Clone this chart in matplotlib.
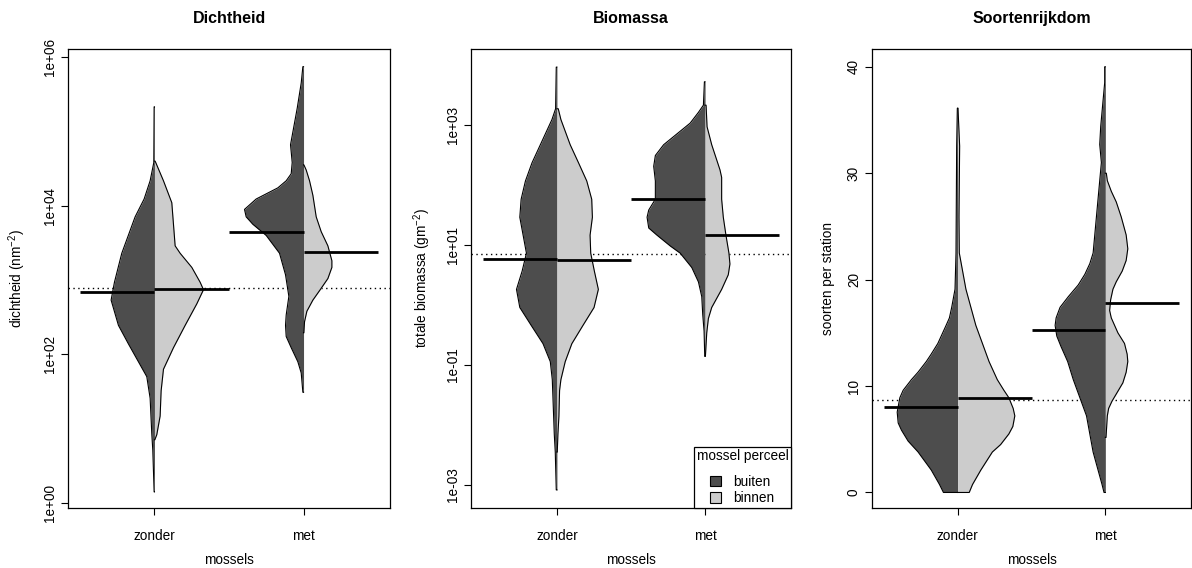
import numpy as np
import matplotlib
matplotlib.use('Agg')
import matplotlib.pyplot as plt
from matplotlib.patches import Patch

plt.rcParams['font.family'] = ['Liberation Sans', 'DejaVu Sans']
plt.rcParams['mathtext.fontset'] = 'custom'
plt.rcParams['mathtext.rm'] = 'Liberation Sans'
plt.rcParams['mathtext.default'] = 'regular'

# ---------------- data ----------------
groups = ['zonder', 'met']
side_labels = ['buiten', 'binnen']
titles = ['Dichtheid', 'Biomassa', 'Soortenrijkdom']
ylabels = ['dichtheid (nm$^{-2}$)', 'totale biomassa (gm$^{-2}$)', 'soorten per station']
xlabel = 'mossels'

# Dichtheid (log10 of density), bean profiles: y values and relative density
dicht_zonder_buiten_y = [5.33, 4.58, 4.335, 4.09, 3.85, 3.36, 2.97, 2.73, 2.39, 2.14, 1.90, 1.70, 1.41, 0.93, 0.71, 0.15]
dicht_zonder_buiten_d = [1, 2, 13, 31, 58, 98, 120, 130, 108, 78, 48, 23, 13, 8, 5, 1]
dicht_zonder_binnen_y = [4.60, 4.335, 4.04, 3.75, 3.46, 3.36, 3.17, 2.97, 2.87, 2.68, 2.39, 2.09, 1.80, 1.51, 1.17, 0.92, 0.85]
dicht_zonder_binnen_d = [2, 27, 52, 57, 62, 77, 112, 137, 147, 127, 92, 57, 27, 20, 17, 7, 1]
dicht_met_buiten_y = [5.87, 5.65, 5.31, 4.82, 4.58, 4.43, 4.335, 4.24, 4.09, 3.95, 3.85, 3.75, 3.60, 3.36, 3.07, 2.78, 2.53, 2.39, 2.24, 2.09, 1.90, 1.75, 1.49]
dicht_met_buiten_d = [2, 7, 19, 39, 34, 37, 52, 77, 142, 177, 172, 152, 112, 72, 54, 44, 52, 54, 52, 37, 17, 7, 2]
dicht_met_binnen_y = [4.55, 4.48, 4.335, 4.14, 3.85, 3.65, 3.46, 3.26, 3.17, 3.02, 2.87, 2.73, 2.58, 2.44, 2.29]
dicht_met_binnen_d = [1, 8, 18, 28, 38, 53, 73, 85, 85, 73, 50, 28, 10, 3, 1]
dicht_means = {'zonder': [2.835, 2.874], 'met': [3.65, 3.375]}
dicht_grand = 2.895

# Biomassa (log10 of biomass)
bio_zonder_buiten_y = [3.965, 3.27, 3.09, 2.97, 2.67, 2.37, 2.065, 1.76, 1.46, 1.16, 0.86, 0.56, 0.256, -0.046, -0.35, -0.65, -0.95, -1.25, -1.55, -2.16, -2.46, -3.09]
bio_zonder_buiten_d = [2, 4, 15, 25, 50, 75, 95, 108, 112, 102, 92, 105, 122, 112, 77, 42, 20, 14, 12, 8, 5, 2]
bio_zonder_binnen_y = [3.27, 3.09, 2.97, 2.67, 2.37, 2.065, 1.76, 1.46, 1.16, 0.86, 0.56, 0.256, -0.046, -0.35, -0.65, -0.95, -1.25, -1.43, -1.86, -2.16, -2.46]
bio_zonder_binnen_d = [4, 12, 20, 40, 65, 90, 105, 107, 100, 102, 113, 125, 112, 78, 45, 25, 12, 8, 6, 3, 1]
bio_met_buiten_y = [3.72, 3.33, 3.21, 3.03, 2.85, 2.67, 2.49, 2.31, 2.065, 1.76, 1.58, 1.46, 1.28, 1.16, 0.98, 0.86, 0.62, 0.38, 0.135, -0.17, -0.44, -0.86]
bio_met_buiten_d = [2, 5, 20, 45, 85, 125, 150, 155, 150, 150, 170, 175, 170, 145, 105, 75, 40, 20, 10, 7, 3, 1]
bio_met_binnen_y = [3.33, 2.97, 2.67, 2.25, 2.125, 1.76, 1.46, 1.16, 0.86, 0.68, 0.50, 0.256, -0.046, -0.23, -0.47, -0.86]
bio_met_binnen_d = [3, 6, 20, 45, 50, 50, 55, 63, 72, 75, 70, 50, 20, 10, 5, 1]
bio_means = {'zonder': [0.77, 0.75], 'met': [1.76, 1.17]}
bio_grand = 0.84

# Soortenrijkdom (species per station)
soort_zonder_buiten_y = [36.1, 32.55, 22.5, 19.1, 17.4, 16.4, 15.7, 14.0, 13.0, 12.3, 11.3, 10.6, 9.6, 8.9, 7.55, 6.53, 5.85, 4.83, 3.81, 2.11, 0.75, 0.0]
soort_zonder_buiten_d = [1, 3, 5, 8, 18, 25, 35, 60, 80, 95, 120, 140, 165, 175, 183, 180, 170, 150, 120, 80, 55, 43]
soort_zonder_binnen_y = [36.1, 32.55, 25.9, 22.5, 20.8, 19.1, 17.4, 15.7, 14.0, 12.3, 10.6, 9.6, 8.9, 7.9, 7.2, 6.2, 5.5, 4.5, 3.8, 2.1, 0.75, 0.0]
soort_zonder_binnen_d = [1, 6, 4, 5, 15, 25, 40, 55, 75, 95, 120, 140, 155, 168, 173, 167, 155, 130, 105, 70, 45, 35]
soort_met_buiten_y = [40.0, 38.5, 36.8, 34.4, 32.7, 31.0, 29.3, 27.6, 25.9, 24.2, 22.5, 21.5, 20.5, 19.5, 18.4, 17.4, 16.4, 15.7, 14.7, 13.7, 12.3, 10.6, 8.9, 7.2, 5.5, 3.8, 2.1, 0.75, 0.0]
soort_met_buiten_d = [2, 2, 7, 14, 17, 12, 17, 22, 27, 32, 37, 47, 62, 82, 112, 137, 149, 152, 147, 134, 114, 97, 77, 57, 47, 37, 22, 10, 4]
soort_met_binnen_y = [30.0, 29.3, 28.3, 27.3, 25.9, 24.2, 22.9, 21.8, 20.8, 19.8, 19.1, 18.1, 17.1, 16.4, 15.0, 14.0, 13.0, 12.3, 11.3, 10.3, 9.25, 8.57, 7.9, 7.2, 5.17]
soort_met_binnen_d = [3, 6, 18, 33, 48, 63, 68, 63, 51, 33, 23, 16, 13, 18, 38, 58, 66, 68, 63, 53, 33, 20, 10, 6, 2]
soort_means = {'zonder': [8.03, 8.84], 'met': [15.27, 17.76]}
soort_grand = 8.67

dicht_ticks = [0, 2, 4, 6]
bio_ticks = [-3, -1, 1, 3]
soort_ticks = [0, 10, 20, 30, 40]

# ---------------- style ----------------
DARK = '#4d4d4d'
LIGHT = '#cccccc'
DENS_SCALE = 1.0 / 447.0
MEANLEN = 0.5
FS = 9.8

panels = [
    dict(log=True,
         beans={'zonder': [(dicht_zonder_buiten_y, dicht_zonder_buiten_d), (dicht_zonder_binnen_y, dicht_zonder_binnen_d)],
                'met': [(dicht_met_buiten_y, dicht_met_buiten_d), (dicht_met_binnen_y, dicht_met_binnen_d)]},
         means=dicht_means, grand=dicht_grand, ticks=dicht_ticks, ylim=(-0.067, 6.108),
         rect=[68, 49, 390, 508], ylab_x=-0.124),
    dict(log=True,
         beans={'zonder': [(bio_zonder_buiten_y, bio_zonder_buiten_d), (bio_zonder_binnen_y, bio_zonder_binnen_d)],
                'met': [(bio_met_buiten_y, bio_met_buiten_d), (bio_met_binnen_y, bio_met_binnen_d)]},
         means=bio_means, grand=bio_grand, ticks=bio_ticks, ylim=(-3.392, 4.267),
         rect=[471, 49, 791, 508], ylab_x=-0.120),
    dict(log=False,
         beans={'zonder': [(soort_zonder_buiten_y, soort_zonder_buiten_d), (soort_zonder_binnen_y, soort_zonder_binnen_d)],
                'met': [(soort_met_buiten_y, soort_met_buiten_d), (soort_met_binnen_y, soort_met_binnen_d)]},
         means=soort_means, grand=soort_grand, ticks=soort_ticks, ylim=(-1.46, 41.67),
         rect=[872, 49, 1191, 508], ylab_x=-0.117),
]

W, H = 1192, 568
fig = plt.figure(figsize=(W / 100, H / 100), dpi=100)

for p, title, ylab in zip(panels, titles, ylabels):
    l, t, r, b = p['rect']
    ax = fig.add_axes([l / W, (H - b) / H, (r - l) / W, (b - t) / H])
    tr = (lambda v: 10.0 ** np.asarray(v, dtype=float)) if p['log'] else (lambda v: np.asarray(v, dtype=float))
    if p['log']:
        ax.set_yscale('log')

    # grand mean dotted line (behind beans)
    ax.axhline(tr(p['grand']), color='black', lw=1.0, ls=(0, (1, 2.5)), zorder=1)

    for gi, g in enumerate(groups):
        c = gi + 1
        for si, (ys, ds) in enumerate(p['beans'][g]):
            y = tr(ys)
            w = np.asarray(ds, dtype=float) * DENS_SCALE
            if si == 0:
                xe = c - w
                ax.fill_betweenx(y, xe, c, color=DARK, lw=0, zorder=2)
            else:
                xe = c + w
                ax.fill_betweenx(y, c, xe, color=LIGHT, lw=0, zorder=2)
            ax.plot(np.r_[c, xe, c], np.r_[y[0], y, y[-1]], color='black', lw=0.8, zorder=3)
        # mean lines
        m_left, m_right = p['means'][g]
        ax.plot([c - MEANLEN, c], [tr(m_left), tr(m_left)], color='black', lw=2.0,
                solid_capstyle='butt', zorder=4)
        ax.plot([c, c + MEANLEN], [tr(m_right), tr(m_right)], color='black', lw=2.0,
                solid_capstyle='butt', zorder=4)

    ax.set_xlim(0.42, 2.58)
    ax.set_ylim(tr(p['ylim'][0]), tr(p['ylim'][1]))
    ax.set_xticks([1, 2])
    ax.set_xticklabels(groups)
    ticks = p['ticks']
    ax.set_yticks(tr(ticks))
    ax.minorticks_off()
    if p['log']:
        ax.set_yticklabels(['1e%+03d' % v if v < 0 else '1e+%02d' % v for v in ticks])
    else:
        ax.set_yticklabels([str(v) for v in ticks])
    ax.tick_params(axis='both', direction='out', length=5, width=0.8, labelsize=FS, colors='black')
    ax.tick_params(axis='x', pad=10)
    ax.tick_params(axis='y', pad=3, labelrotation=90)
    for lab in ax.get_yticklabels():
        lab.set_va('center')
    for s in ax.spines.values():
        s.set_linewidth(0.9)
    ax.set_title(title, fontsize=11.5, fontweight='bold', pad=18.5)
    ax.set_ylabel(ylab, fontsize=FS)
    ax.yaxis.set_label_coords(p['ylab_x'], 0.5)
    ax.set_xlabel(xlabel, fontsize=FS)
    ax.xaxis.set_label_coords(0.5, -0.097)

    if title == 'Biomassa':
        handles = [Patch(facecolor=DARK, edgecolor='black', lw=0.8),
                   Patch(facecolor=LIGHT, edgecolor='black', lw=0.8)]
        leg = ax.legend(handles, side_labels, title='mossel perceel', loc='lower right',
                        borderaxespad=0, frameon=True, fancybox=False, edgecolor='black',
                        framealpha=1, fontsize=FS, title_fontsize=FS, handlelength=0.8,
                        handleheight=0.8, borderpad=0.2, labelspacing=0.2, handletextpad=0.9,
                        alignment='center')
        leg._legend_box.sep = 8
        leg.get_frame().set_linewidth(0.9)
        leg.set_zorder(10)

fig.savefig('out.png', dpi=100)
